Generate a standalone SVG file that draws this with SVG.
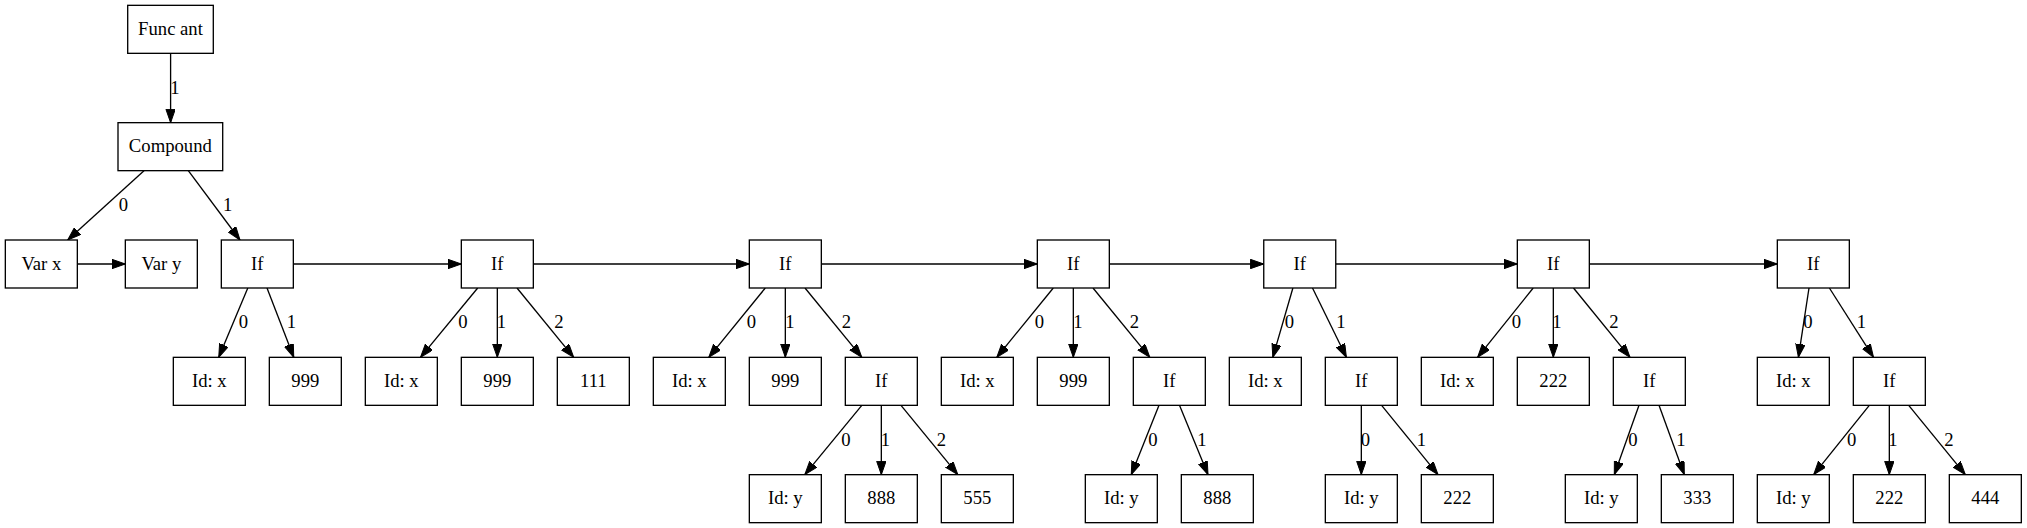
<svg xmlns="http://www.w3.org/2000/svg" width="2027" height="528" viewBox="0 0 2027 528" font-family="Liberation Serif, Times New Roman, Times, DejaVu Serif, serif" font-size="18.67">
<style>
.n rect{fill:#fff;stroke:#000;stroke-width:1.33}
text{font-family:'Liberation Serif','Times New Roman',Times,'DejaVu Serif',serif;font-size:18.67px;text-anchor:middle;fill:#000}
.e line{stroke:#000;stroke-width:1.33;marker-end:url(#arr)}
</style>
<defs>
<marker id="arr" markerUnits="userSpaceOnUse" markerWidth="14" markerHeight="10" refX="13.33" refY="4.67" orient="auto" viewBox="0 0 14 10">
<path d="M0,0 L13.33,4.67 L0,9.33 z" fill="#000" stroke="#000" stroke-width="1"/>
</marker>
</defs>
<rect width="2027" height="528" fill="#fff"/>
<g id="edges" class="e">
<line x1="170.6" y1="53.33" x2="170.6" y2="122.67"/>
<text x="175" y="93.5">1</text>
<line x1="144" y1="170.67" x2="67.7" y2="240"/>
<text x="123.3" y="210.5">0</text>
<line x1="188.3" y1="170.67" x2="240" y2="240"/>
<text x="227.7" y="210.5">1</text>
<line x1="77.33" y1="264" x2="125.33" y2="264"/>
<line x1="293.33" y1="264" x2="461.33" y2="264"/>
<line x1="533.33" y1="264" x2="749.33" y2="264"/>
<line x1="821.33" y1="264" x2="1037.33" y2="264"/>
<line x1="1109.33" y1="264" x2="1263.75" y2="264"/>
<line x1="1335.75" y1="264" x2="1517.33" y2="264"/>
<line x1="1589.33" y1="264" x2="1777.33" y2="264"/>
<line x1="247.8" y1="288" x2="218.75" y2="357.33"/><text x="243.3" y="328">0</text>
<line x1="267" y1="288" x2="293.75" y2="357.33"/><text x="291.5" y="328">1</text>
<line x1="477.7" y1="288" x2="420.5" y2="357.33"/><text x="463" y="328">0</text>
<line x1="497.33" y1="288" x2="497.33" y2="357.33"/><text x="501.3" y="328">1</text>
<line x1="517" y1="288" x2="573.7" y2="357.33"/><text x="559" y="328">2</text>
<line x1="765.3" y1="288" x2="708.8" y2="357.33"/><text x="751.3" y="328">0</text>
<line x1="785.33" y1="288" x2="785.33" y2="357.33"/><text x="789.8" y="328">1</text>
<line x1="805" y1="288" x2="861.8" y2="357.33"/><text x="846.3" y="328">2</text>
<line x1="1053.3" y1="288" x2="996.8" y2="357.33"/><text x="1039.3" y="328">0</text>
<line x1="1073.33" y1="288" x2="1073.33" y2="357.33"/><text x="1077.8" y="328">1</text>
<line x1="1093" y1="288" x2="1149.8" y2="357.33"/><text x="1134.3" y="328">2</text>
<line x1="1292.9" y1="288" x2="1272.8" y2="357.33"/><text x="1289.3" y="328">0</text>
<line x1="1312.5" y1="288" x2="1346.4" y2="357.33"/><text x="1340.8" y="328">1</text>
<line x1="1533.2" y1="288" x2="1477.6" y2="357.33"/><text x="1516.5" y="328">0</text>
<line x1="1553.33" y1="288" x2="1553.33" y2="357.33"/><text x="1557" y="328">1</text>
<line x1="1573.5" y1="288" x2="1630" y2="357.33"/><text x="1614" y="328">2</text>
<line x1="1809" y1="288" x2="1798.4" y2="357.33"/><text x="1808" y="328">0</text>
<line x1="1829.4" y1="288" x2="1873.5" y2="357.33"/><text x="1861.4" y="328">1</text>
<line x1="861.8" y1="405.33" x2="804.8" y2="474.67"/><text x="846" y="445.8">0</text>
<line x1="881.33" y1="405.33" x2="881.33" y2="474.67"/><text x="885.5" y="445.8">1</text>
<line x1="901" y1="405.33" x2="957.8" y2="474.67"/><text x="941.5" y="445.8">2</text>
<line x1="1159" y1="405.33" x2="1131.25" y2="474.67"/><text x="1153" y="445.8">0</text>
<line x1="1179.5" y1="405.33" x2="1208" y2="474.67"/><text x="1202" y="445.8">1</text>
<line x1="1361.33" y1="405.33" x2="1361.33" y2="474.67"/><text x="1365.5" y="445.8">0</text>
<line x1="1381.6" y1="405.33" x2="1438" y2="474.67"/><text x="1421.5" y="445.8">1</text>
<line x1="1639" y1="405.33" x2="1614.3" y2="474.67"/><text x="1633" y="445.8">0</text>
<line x1="1659" y1="405.33" x2="1684.3" y2="474.67"/><text x="1681" y="445.8">1</text>
<line x1="1869.3" y1="405.33" x2="1813.7" y2="474.67"/><text x="1851.7" y="445.8">0</text>
<line x1="1889.33" y1="405.33" x2="1889.33" y2="474.67"/><text x="1893" y="445.8">1</text>
<line x1="1908.7" y1="405.33" x2="1965.3" y2="474.67"/><text x="1949" y="445.8">2</text>
</g>
<g id="funcant" class="n"><rect x="127.7" y="5.33" width="85.6" height="48"/><text x="170.5" y="34.93">Func ant</text></g>
<g id="compound" class="n"><rect x="118" y="122.67" width="104.7" height="48"/><text x="170.33" y="152.27">Compound</text></g>
<g id="varx" class="n"><rect x="5.33" y="240" width="72" height="48"/><text x="41.33" y="269.6">Var x</text></g>
<g id="vary" class="n"><rect x="125.33" y="240" width="72" height="48"/><text x="161.33" y="269.6">Var y</text></g>
<g id="if1" class="n"><rect x="221.33" y="240" width="72" height="48"/><text x="257.33" y="269.6">If</text></g>
<g id="if2" class="n"><rect x="461.33" y="240" width="72" height="48"/><text x="497.33" y="269.6">If</text></g>
<g id="if3" class="n"><rect x="749.33" y="240" width="72" height="48"/><text x="785.33" y="269.6">If</text></g>
<g id="if4" class="n"><rect x="1037.33" y="240" width="72" height="48"/><text x="1073.33" y="269.6">If</text></g>
<g id="if5" class="n"><rect x="1263.75" y="240" width="72" height="48"/><text x="1299.75" y="269.6">If</text></g>
<g id="if6" class="n"><rect x="1517.33" y="240" width="72" height="48"/><text x="1553.33" y="269.6">If</text></g>
<g id="if7" class="n"><rect x="1777.33" y="240" width="72" height="48"/><text x="1813.33" y="269.6">If</text></g>
<g id="idx1" class="n"><rect x="173.33" y="357.33" width="72" height="48"/><text x="209.33" y="386.93">Id: x</text></g>
<g id="n999a" class="n"><rect x="269.33" y="357.33" width="72" height="48"/><text x="305.33" y="386.93">999</text></g>
<g id="idx2" class="n"><rect x="365.33" y="357.33" width="72" height="48"/><text x="401.33" y="386.93">Id: x</text></g>
<g id="n999b" class="n"><rect x="461.33" y="357.33" width="72" height="48"/><text x="497.33" y="386.93">999</text></g>
<g id="n111" class="n"><rect x="557.33" y="357.33" width="72" height="48"/><text x="593.33" y="386.93">111</text></g>
<g id="idx3" class="n"><rect x="653.33" y="357.33" width="72" height="48"/><text x="689.33" y="386.93">Id: x</text></g>
<g id="n999c" class="n"><rect x="749.33" y="357.33" width="72" height="48"/><text x="785.33" y="386.93">999</text></g>
<g id="if3c" class="n"><rect x="845.33" y="357.33" width="72" height="48"/><text x="881.33" y="386.93">If</text></g>
<g id="idx4" class="n"><rect x="941.33" y="357.33" width="72" height="48"/><text x="977.33" y="386.93">Id: x</text></g>
<g id="n999d" class="n"><rect x="1037.33" y="357.33" width="72" height="48"/><text x="1073.33" y="386.93">999</text></g>
<g id="if4c" class="n"><rect x="1133.33" y="357.33" width="72" height="48"/><text x="1169.33" y="386.93">If</text></g>
<g id="idx5" class="n"><rect x="1229.33" y="357.33" width="72" height="48"/><text x="1265.33" y="386.93">Id: x</text></g>
<g id="if5c" class="n"><rect x="1325.33" y="357.33" width="72" height="48"/><text x="1361.33" y="386.93">If</text></g>
<g id="idx6" class="n"><rect x="1421.33" y="357.33" width="72" height="48"/><text x="1457.33" y="386.93">Id: x</text></g>
<g id="n222a" class="n"><rect x="1517.33" y="357.33" width="72" height="48"/><text x="1553.33" y="386.93">222</text></g>
<g id="if6c" class="n"><rect x="1613.33" y="357.33" width="72" height="48"/><text x="1649.33" y="386.93">If</text></g>
<g id="idx7" class="n"><rect x="1757.33" y="357.33" width="72" height="48"/><text x="1793.33" y="386.93">Id: x</text></g>
<g id="if7c" class="n"><rect x="1853.33" y="357.33" width="72" height="48"/><text x="1889.33" y="386.93">If</text></g>
<g id="idy1" class="n"><rect x="749.33" y="474.67" width="72" height="48"/><text x="785.33" y="504.27">Id: y</text></g>
<g id="n888a" class="n"><rect x="845.33" y="474.67" width="72" height="48"/><text x="881.33" y="504.27">888</text></g>
<g id="n555" class="n"><rect x="941.33" y="474.67" width="72" height="48"/><text x="977.33" y="504.27">555</text></g>
<g id="idy2" class="n"><rect x="1085.33" y="474.67" width="72" height="48"/><text x="1121.33" y="504.27">Id: y</text></g>
<g id="n888b" class="n"><rect x="1181.33" y="474.67" width="72" height="48"/><text x="1217.33" y="504.27">888</text></g>
<g id="idy3" class="n"><rect x="1325.33" y="474.67" width="72" height="48"/><text x="1361.33" y="504.27">Id: y</text></g>
<g id="n222b" class="n"><rect x="1421.33" y="474.67" width="72" height="48"/><text x="1457.33" y="504.27">222</text></g>
<g id="idy4" class="n"><rect x="1565.33" y="474.67" width="72" height="48"/><text x="1601.33" y="504.27">Id: y</text></g>
<g id="n333" class="n"><rect x="1661.33" y="474.67" width="72" height="48"/><text x="1697.33" y="504.27">333</text></g>
<g id="idy5" class="n"><rect x="1757.33" y="474.67" width="72" height="48"/><text x="1793.33" y="504.27">Id: y</text></g>
<g id="n222c" class="n"><rect x="1853.33" y="474.67" width="72" height="48"/><text x="1889.33" y="504.27">222</text></g>
<g id="n444" class="n"><rect x="1949.33" y="474.67" width="72" height="48"/><text x="1985.33" y="504.27">444</text></g>
</svg>
